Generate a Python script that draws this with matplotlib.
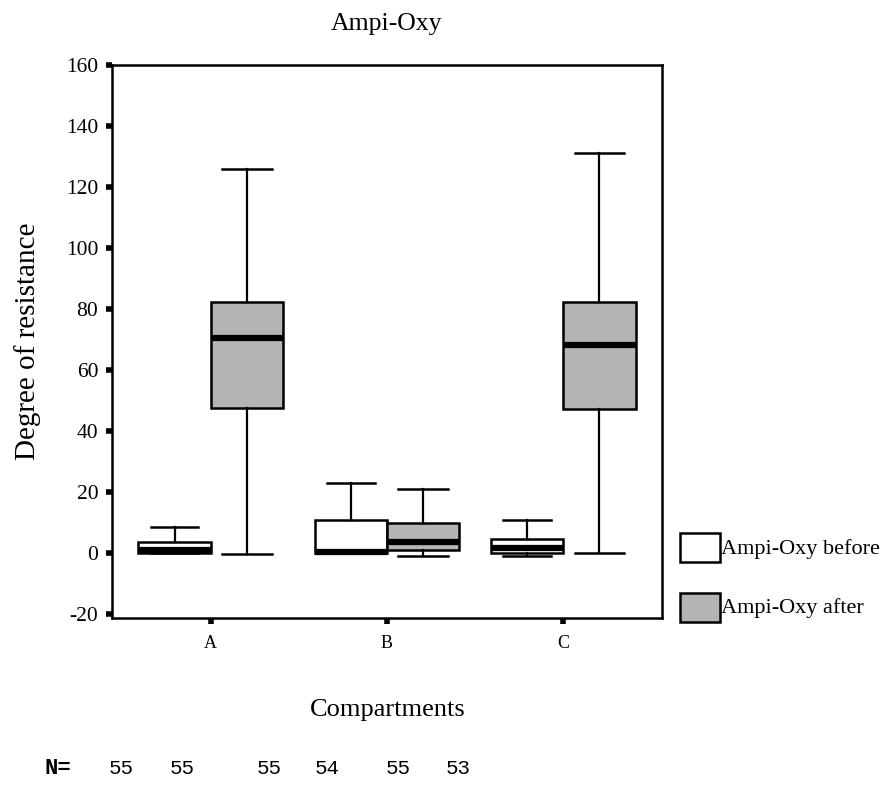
import numpy as np
import matplotlib
matplotlib.use('Agg')
import matplotlib.pyplot as plt
from matplotlib.patches import Rectangle

# Box statistics
compartments = ['A', 'B', 'C']
before_low = [0, 0, -1]
before_q1 = [0, 0, 0]
before_med = [1, 0.3, 1.5]
before_q3 = [3.6, 10.8, 4.6]
before_high = [8.5, 23, 11]

after_low = [-0.3, -1, 0]
after_q1 = [47.5, 1, 47.2]
after_med = [70.5, 3.6, 68.2]
after_q3 = [82.2, 9.8, 82.2]
after_high = [126, 21, 131]

n_labels = ['55', '55', '55', '54', '55', '53']

plt.rcParams['font.family'] = ['Liberation Serif', 'DejaVu Serif']

fig = plt.figure(figsize=(8.87, 7.86), dpi=100)
ax = fig.add_axes([0.1263, 0.2137, 0.62, 0.7036])


def make_stats(low, q1, med, q3, high):
    out = []
    for i in range(len(low)):
        out.append({'whislo': low[i], 'q1': q1[i], 'med': med[i],
                    'q3': q3[i], 'whishi': high[i], 'fliers': []})
    return out


pos = np.arange(1, len(compartments) + 1)
w = 0.41
common = dict(widths=w, patch_artist=True, showfliers=False,
              whiskerprops=dict(color='black', lw=1.6),
              capprops=dict(color='black', lw=1.8),
              medianprops=dict(color='black', lw=4.5, solid_capstyle='butt'))

ax.bxp(make_stats(before_low, before_q1, before_med, before_q3, before_high),
       positions=pos - w / 2, capwidths=0.27,
       boxprops=dict(facecolor='white', edgecolor='black', lw=1.8), **common)
ax.bxp(make_stats(after_low, after_q1, after_med, after_q3, after_high),
       positions=pos + w / 2, capwidths=0.28,
       boxprops=dict(facecolor='#b4b4b4', edgecolor='black', lw=1.8), **common)

ax.set_xlim(0.44, 3.56)
ax.set_ylim(-21.3, 160)
ax.set_yticks(np.arange(-20, 161, 20))
ax.set_yticklabels([str(v) for v in range(-20, 161, 20)])
ax.set_xticks(pos)
ax.set_xticklabels(compartments)
ax.tick_params(axis='both', direction='out', length=4, width=4, labelsize=15.5, pad=6)
ax.tick_params(axis='x', labelsize=13, pad=8)
for s in ax.spines.values():
    s.set_linewidth(1.8)

ax.set_title('Ampi-Oxy', fontsize=18.5, pad=25)
ax.set_ylabel('Degree of resistance', fontsize=21)
ax.yaxis.set_label_coords(-0.13, 0.5)
fig.text(388 / 887, 1 - 710 / 786, 'Compartments', fontsize=19, ha='center', va='center')

# legend drawn by hand on the figure
fig.patches.append(Rectangle((680 / 887, 1 - 562 / 786), 40 / 887, 29 / 786,
                             transform=fig.transFigure, facecolor='white',
                             edgecolor='black', lw=1.8))
fig.patches.append(Rectangle((680 / 887, 1 - 622 / 786), 40 / 887, 29 / 786,
                             transform=fig.transFigure, facecolor='#b4b4b4',
                             edgecolor='black', lw=1.8))
fig.text(721 / 887, 1 - 549 / 786, 'Ampi-Oxy before', fontsize=16, va='center')
fig.text(721 / 887, 1 - 608 / 786, 'Ampi-Oxy after', fontsize=16, va='center')

# sample sizes
n_x = [121, 182, 269, 327, 398, 458]
fig.text(58 / 887, 1 - 768 / 786, 'N=', fontsize=16, fontweight='bold',
         family='Liberation Mono', ha='center', va='center')
for x, lab in zip(n_x, n_labels):
    fig.text(x / 887, 1 - 768 / 786, lab, fontsize=15, family='Liberation Mono',
             ha='center', va='center')

fig.savefig('out.png', dpi=100)
